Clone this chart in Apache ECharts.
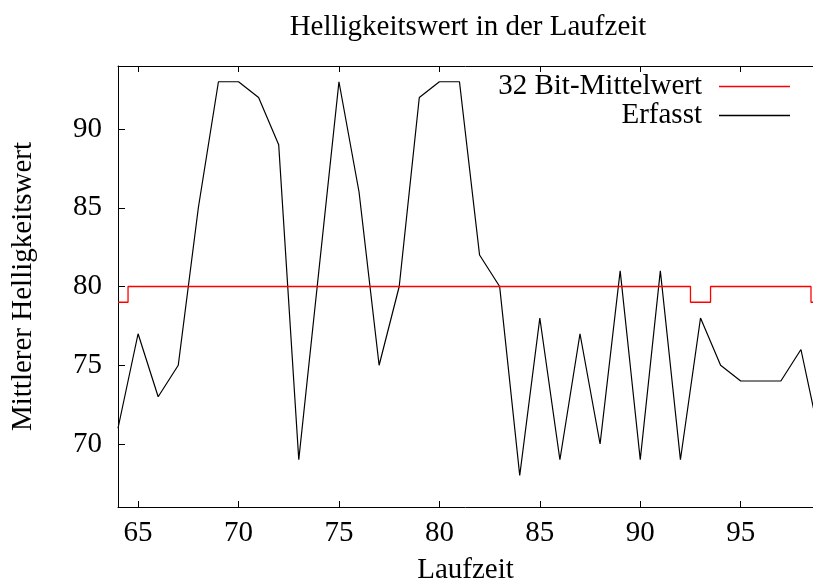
<!DOCTYPE html>
<html>
<head>
<meta charset="utf-8">
<script src="https://cdn.jsdelivr.net/npm/echarts@6/dist/echarts.min.js"></script>
<style>
  html, body { margin: 0; padding: 0; background: #fff; }
  #chart { width: 813px; height: 582px; }
</style>
</head>
<body>
<div id="chart"></div>
<script>
// Laufzeit (x) samples
const laufzeit = [64, 65, 66, 67, 68, 69, 70, 71, 72, 73, 74, 75, 76, 77, 78, 79, 80, 81,
                  82, 83, 84, 85, 86, 87, 88, 89, 90, 91, 92, 93, 94, 95, 96, 97, 98, 99];
// Measured brightness per step
const erfasst = [71, 77, 73, 75, 85, 93, 93, 92, 89, 69, 81, 93, 86, 75, 80, 92, 93, 93,
                 82, 80, 68, 78, 69, 77, 70, 81, 69, 81, 69, 78, 75, 74, 74, 74, 76, 70];
// 32-bit running mean
const mittelwert = [79, 80, 80, 80, 80, 80, 80, 80, 80, 80, 80, 80, 80, 80, 80, 80, 80, 80,
                    80, 80, 80, 80, 80, 80, 80, 80, 80, 80, 80, 79, 80, 80, 80, 80, 80, 79];
const xTicks = [65, 70, 75, 80, 85, 90, 95];
const yTicks = [70, 75, 80, 85, 90];

const FONT = 'Liberation Serif';
const FS = 29;

const pairs = (ys) => laufzeit.map((x, i) => [x, ys[i]]);

const chart = echarts.init(document.getElementById('chart'), null, { renderer: 'canvas' });

const axisLine = { show: true, onZero: false, lineStyle: { color: '#000', width: 1 } };

chart.setOption({
  animation: false,
  backgroundColor: '#fff',
  title: {
    text: 'Helligkeitswert in der Laufzeit',
    left: 463, top: 8, textAlign: 'center',
    textStyle: { fontFamily: FONT, fontSize: FS, fontWeight: 'normal', color: '#000' }
  },
  legend: {
    orient: 'vertical', align: 'right',
    right: 23, top: 72, padding: 0, itemGap: 0,
    itemWidth: 71, itemHeight: 1.3, icon: 'rect',
    textStyle: { fontFamily: FONT, fontSize: FS, color: '#000', lineHeight: 27, padding: [0, 12, 0, 0] },
    data: ['32 Bit-Mittelwert', 'Erfasst']
  },
  grid: { left: 118, right: 0, top: 66, bottom: 75, containLabel: false, outerBoundsMode: 'none' },
  xAxis: [{
    type: 'value', min: 64, max: 98.6, position: 'bottom',
    name: 'Laufzeit', nameLocation: 'middle', nameGap: 49,
    nameTextStyle: { fontFamily: FONT, fontSize: FS, color: '#000' },
    axisLine: axisLine,
    axisTick: { show: true, inside: true, length: 6, customValues: xTicks, lineStyle: { color: '#000' } },
    axisLabel: { show: true, margin: 12, customValues: xTicks, fontFamily: FONT, fontSize: FS, color: '#000' },
    splitLine: { show: false }
  }, {
    type: 'value', min: 64, max: 98.6, position: 'top',
    axisLine: axisLine,
    axisTick: { show: true, inside: true, length: 6, customValues: xTicks, lineStyle: { color: '#000' } },
    axisLabel: { show: false },
    splitLine: { show: false }
  }],
  yAxis: {
    type: 'value', min: 66, max: 94,
    name: 'Mittlerer Helligkeitswert', nameLocation: 'middle', nameGap: 80,
    nameTextStyle: { fontFamily: FONT, fontSize: FS, color: '#000' },
    axisLine: axisLine,
    axisTick: { show: true, inside: true, length: 7, customValues: yTicks, lineStyle: { color: '#000' } },
    axisLabel: { show: true, margin: 16, customValues: yTicks, fontFamily: FONT, fontSize: FS, color: '#000' },
    splitLine: { show: false }
  },
  series: [{
    name: '32 Bit-Mittelwert', type: 'line', step: 'middle',
    data: pairs(mittelwert), showSymbol: false, symbol: 'none',
    lineStyle: { color: '#ff0000', width: 1.3 }, itemStyle: { color: '#ff0000' },
    z: 3
  }, {
    name: 'Erfasst', type: 'line',
    data: pairs(erfasst), showSymbol: false, symbol: 'none',
    lineStyle: { color: '#000', width: 1.2 }, itemStyle: { color: '#000' },
    z: 2
  }]
});
</script>
</body>
</html>
